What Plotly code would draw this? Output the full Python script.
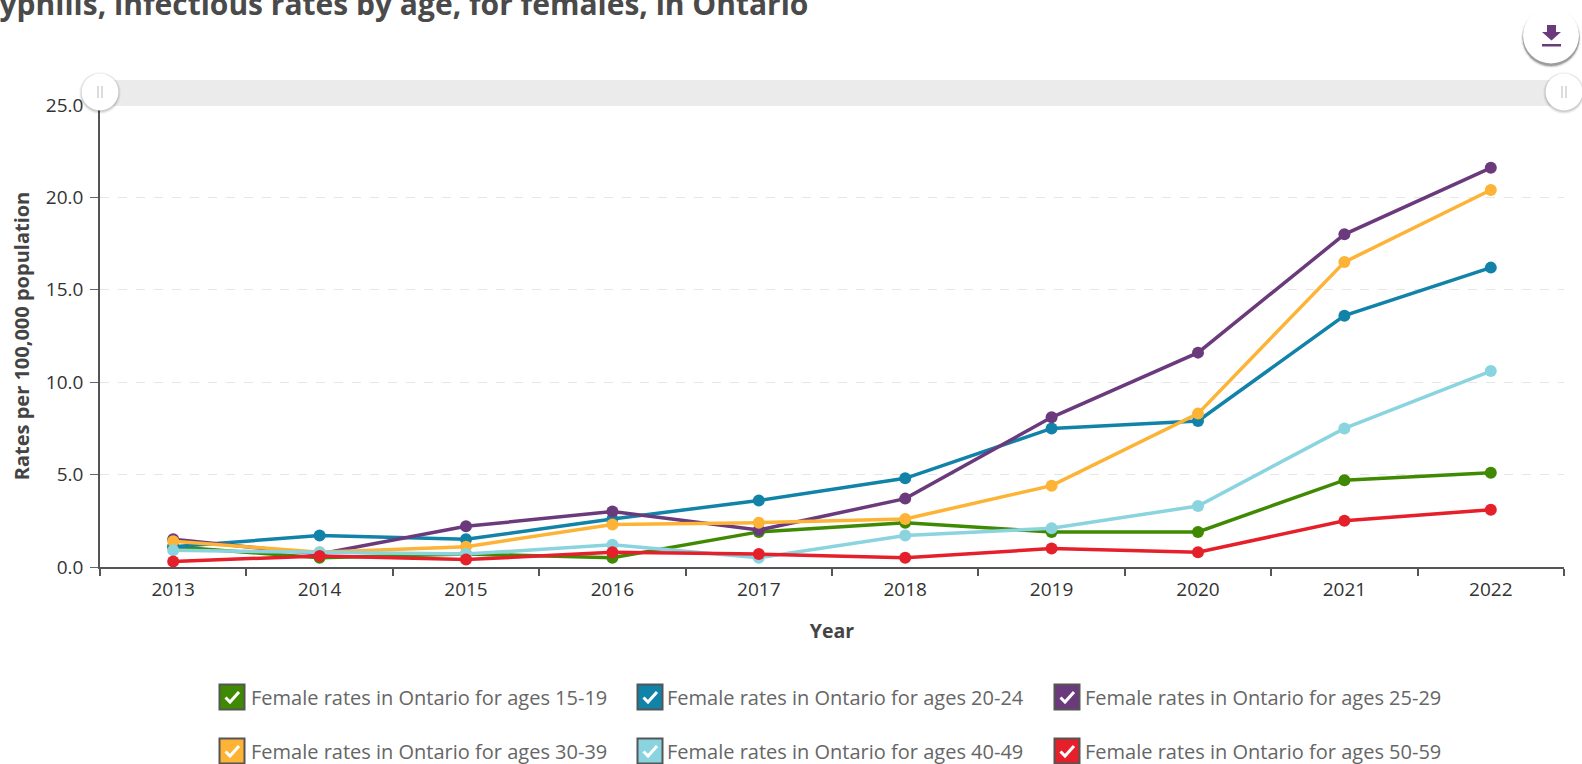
import plotly.graph_objects as go

years = [2013, 2014, 2015, 2016, 2017, 2018, 2019, 2020, 2021, 2022]
ages_15_19 = [1.1, 0.5, 0.7, 0.5, 1.9, 2.4, 1.9, 1.9, 4.7, 5.1]
ages_20_24 = [1.1, 1.7, 1.5, 2.6, 3.6, 4.8, 7.5, 7.9, 13.6, 16.2]
ages_25_29 = [1.5, 0.7, 2.2, 3.0, 2.0, 3.7, 8.1, 11.6, 18.0, 21.6]
ages_30_39 = [1.4, 0.8, 1.1, 2.3, 2.4, 2.6, 4.4, 8.3, 16.5, 20.4]
ages_40_49 = [0.9, 0.8, 0.7, 1.2, 0.5, 1.7, 2.1, 3.3, 7.5, 10.6]
ages_50_59 = [0.3, 0.6, 0.4, 0.8, 0.7, 0.5, 1.0, 0.8, 2.5, 3.1]
y_ticks = [0, 5, 10, 15, 20, 25]
title_text = "Syphilis, infectious rates by age, for females, in Ontario"
x_title = "Year"
y_title = "Rates per 100,000 population"

series = [
    ("Female rates in Ontario for ages 15-19", ages_15_19, "#3f8a02"),
    ("Female rates in Ontario for ages 20-24", ages_20_24, "#1283a8"),
    ("Female rates in Ontario for ages 25-29", ages_25_29, "#6b3a7d"),
    ("Female rates in Ontario for ages 30-39", ages_30_39, "#fdb335"),
    ("Female rates in Ontario for ages 40-49", ages_40_49, "#8ad4e0"),
    ("Female rates in Ontario for ages 50-59", ages_50_59, "#e5202a"),
]

W, H = 1582, 764
L, R, T, B = 100, 1564, 105, 567
FONT = "Open Sans"


def px(x):
    return (x - L) / (R - L)


def py(y):
    return (B - y) / (B - T)


def circle(cx, cy, r, fill, line=None, lw=0):
    return dict(type="circle", xref="paper", yref="paper",
                x0=px(cx - r), x1=px(cx + r), y0=py(cy + r), y1=py(cy - r),
                fillcolor=fill, line=dict(color=line or fill, width=lw))


def rect(x0, y0, x1, y1, fill):
    return dict(type="rect", xref="paper", yref="paper",
                x0=px(x0), x1=px(x1), y0=py(y1), y1=py(y0),
                fillcolor=fill, line=dict(width=0))


def poly(points, fill=None, line=None, lw=0, closed=True):
    d = "M" + " L".join(f"{px(a):.5f},{py(b):.5f}" for a, b in points) + (" Z" if closed else "")
    return dict(type="path", xref="paper", yref="paper", path=d,
                fillcolor=fill if fill else "rgba(0,0,0,0)",
                line=dict(color=line or "rgba(0,0,0,0)", width=lw))


fig = go.Figure()
for name, vals, color in series:
    fig.add_trace(go.Scatter(x=years, y=vals, name=name, mode="lines+markers",
                             line=dict(color=color, width=3.5),
                             marker=dict(color=color, size=12), cliponaxis=False))

shapes = [rect(100, 80, 1564, 106, "#ebebeb")]
# slider handles
for hx in (100, 1564):
    for r, a in ((21, 0.04), (20, 0.07), (19, 0.1)):
        shapes.append(circle(hx, 93, r, f"rgba(0,0,0,{a})"))
    shapes.append(circle(hx, 92, 18.5, "#ffffff"))
    shapes.append(poly([(hx - 2, 86), (hx - 2, 98)], line="#c8c8c8", lw=1.3, closed=False))
    shapes.append(poly([(hx + 2, 86), (hx + 2, 98)], line="#c8c8c8", lw=1.3, closed=False))
# download button
for r, a, dy in ((30, 0.06, 2), (29, 0.12, 2), (28.5, 0.25, 1.5)):
    shapes.append(circle(1551, 36 + dy, r, f"rgba(0,0,0,{a})"))
shapes.append(circle(1551, 35.5, 28, "#ffffff"))
shapes.append(poly([(1547, 25), (1556, 25), (1556, 32), (1561, 32), (1551.5, 40.5), (1542, 32), (1547, 32)],
                   fill="#6b3a7d"))
shapes.append(rect(1542, 44, 1561, 46.5, "#6b3a7d"))

# legend check boxes
col_x = [219, 637, 1054]
text_x = [249, 665, 1083]
row_y = [697, 751]
annotations = []
for i, (name, vals, color) in enumerate(series):
    bx = col_x[i % 3]
    cy = row_y[i // 3]
    shapes.append(rect(bx - 0.5, cy - 13.5, bx + 26.5, cy + 13.5, "#555555"))
    shapes.append(rect(bx + 1.5, cy - 11.5, bx + 24.5, cy + 11.5, color))
    shapes.append(poly([(bx + 6.5, cy + 0.5), (bx + 11, cy + 5), (bx + 20, cy - 5)],
                       line="#ffffff", lw=3, closed=False))
    annotations.append(dict(text=name, xref="paper", yref="paper", x=px(text_x[i % 3]), y=py(cy),
                            xanchor="left", yanchor="middle", showarrow=False,
                            font=dict(family=FONT, size=20, color="#666666")))
annotations.append(dict(text=f"<b>{title_text}</b>", xref="paper", yref="paper",
                        x=px(-19), y=py(4), xanchor="left", yanchor="middle", showarrow=False,
                        font=dict(family=FONT, size=30, color="#4a4a4a")))

fig.update_layout(
    width=W, height=H, autosize=False, showlegend=False,
    margin=dict(l=L, r=W - R, t=T, b=H - B, pad=0),
    paper_bgcolor="#ffffff", plot_bgcolor="#ffffff",
    font=dict(family=FONT, size=19, color="#333333"),
    shapes=shapes, annotations=annotations,
    xaxis=dict(range=[2012.5, 2022.5], tickmode="array", tickvals=years,
               ticktext=[str(y) for y in years], ticks="outside", ticklen=4,
               tickcolor="rgba(0,0,0,0)", showgrid=False, zeroline=False,
               showline=True, linecolor="#555555", linewidth=1.5,
               tickfont=dict(size=19, color="#333333"),
               title=dict(text=f"<b>{x_title}</b>", font=dict(size=19.5, color="#444444"), standoff=24),
               minor=dict(tickmode="linear", tick0=2012.5, dtick=1, ticks="outside", ticklen=7,
                          tickcolor="#555555", tickwidth=1.5, showgrid=False)),
    yaxis=dict(range=[0, 25], tickmode="array", tickvals=y_ticks,
               ticktext=[f"{v:.1f}" for v in y_ticks], ticks="outside", ticklen=8, tickcolor="#666666",
               ticklabelstandoff=3,
               showgrid=True, gridcolor="#e6e6e6", griddash="dash", gridwidth=1, zeroline=False,
               showline=True, linecolor="#555555", linewidth=1.5,
               tickfont=dict(size=19, color="#333333"),
               title=dict(text=f"<b>{y_title}</b>", font=dict(size=20, color="#444444"), standoff=11)),
)

fig.write_html("out.html", config=dict(displayModeBar=False),
               post_script="document.body.style.margin='0';document.body.style.overflow='hidden';")
